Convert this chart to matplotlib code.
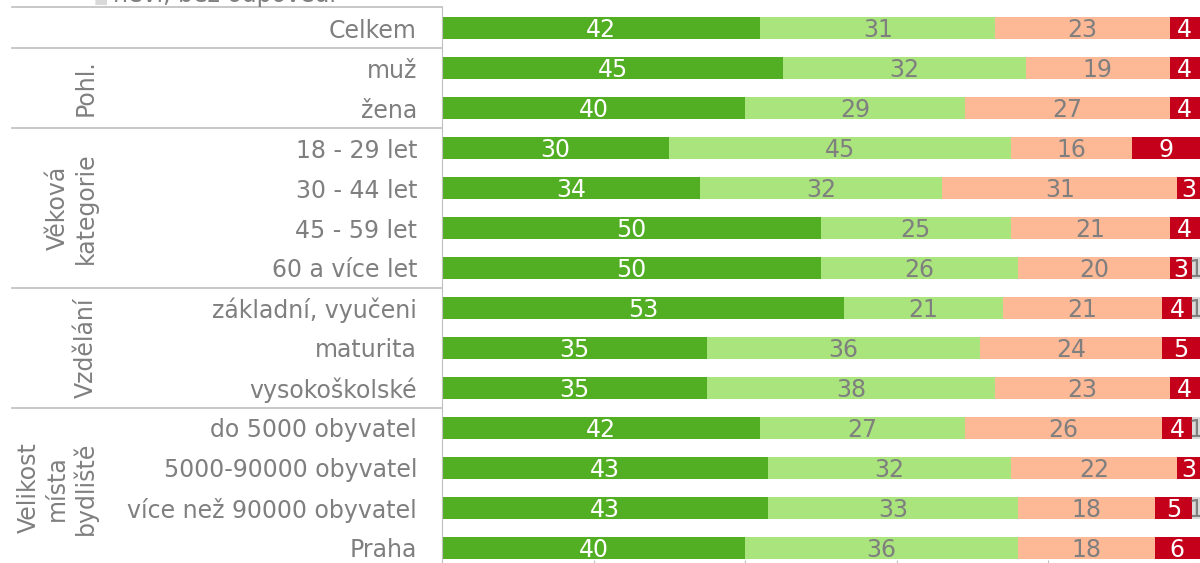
import numpy as np
import matplotlib
matplotlib.use("Agg")
import matplotlib.pyplot as plt
from matplotlib.transforms import blended_transform_factory

# ── DATA ──────────────────────────────────────────────────────────────────────
categories = ["Celkem", "muž", "žena",
              "18 - 29 let", "30 - 44 let", "45 - 59 let", "60 a více let",
              "základní, vyučeni", "maturita", "vysokoškolské",
              "do 5000 obyvatel", "5000-90000 obyvatel", "více než 90000 obyvatel", "Praha"]

s1 = [42, 45, 40, 30, 34, 50, 50, 53, 35, 35, 42, 43, 43, 40]
s2 = [31, 32, 29, 45, 32, 25, 26, 21, 36, 38, 27, 32, 33, 36]
s3 = [23, 19, 27, 16, 31, 21, 20, 21, 24, 23, 26, 22, 18, 18]
s4 = [4, 4, 4, 9, 3, 4, 3, 4, 5, 4, 4, 3, 5, 6]
s5 = [0, 0, 0, 0, 0, 0, 1, 1, 0, 0, 1, 0, 1, 0]

groups = [("Pohl.", 1, 2), ("Věková\nkategorie", 3, 6), ("Vzdělání", 7, 9),
          ("Velikost\nmísta\nbydliště", 10, 13)]
separators = [0.5, 2.5, 6.5, 9.5]

colors      = ["#52AE23", "#A9E47C", "#FDB896", "#C5001A", "#D9D9D9"]
text_colors = ["white", "#7F7F7F", "#7F7F7F", "white", "#7F7F7F"]
GRAY = "#7F7F7F"
LINE = "#BFBFBF"

# ── PLOT ──────────────────────────────────────────────────────────────────────
fig = plt.figure(figsize=(12, 5.63), dpi=100)
ax = fig.add_axes([442 / 1200, 3 / 563, 1 - 442 / 1200, 553 / 563])

series = [s1, s2, s3, s4, s5]
y = np.arange(len(categories))
left = np.zeros(len(categories))
for vals, c, tc in zip(series, colors, text_colors):
    vals = np.array(vals, dtype=float)
    ax.barh(y, vals, left=left, height=0.55, color=c, edgecolor="none")
    for yi, (l, v) in enumerate(zip(left, vals)):
        if v > 0:
            ax.text(l + v / 2, yi + 0.04, f"{int(v)}", ha="center", va="center",
                    color=tc, fontsize=17, clip_on=False)
    left += vals

ax.set_xlim(0, 100)
ax.set_ylim(13.3, -0.525)
ax.set_yticks(y)
ax.set_yticklabels(categories, fontsize=17, color=GRAY)
ax.tick_params(axis="y", length=0, pad=18)
ax.set_xticks([0, 20, 40, 60, 80, 100])
ax.tick_params(axis="x", length=4, color=LINE, labelbottom=False, direction="out")
for s in ["top", "right", "bottom"]:
    ax.spines[s].set_visible(False)
ax.spines["left"].set_color(LINE)

# table lines on the left
tr = blended_transform_factory(fig.transFigure, ax.transData)
for sy in [-0.525] + separators:
    ax.plot([12 / 1200, 442 / 1200], [sy, sy], color=LINE, lw=1.2,
            transform=tr, clip_on=False)

# group labels
for name, a, b in groups:
    ax.text(98 / 1200, (a + b) / 2, name, transform=tr, rotation=90,
            ha="right", va="center", multialignment="center", linespacing=1.2,
            fontsize=17, color=GRAY)

# cut-off legend entry at the top
fig.text(94 / 1200, 1 - 3 / 563, "■", color="#D9D9D9", fontsize=11, va="baseline")
fig.text(113 / 1200, 1 - 2 / 563, "neví, bez odpovědi", color=GRAY, fontsize=17, va="baseline")

fig.savefig("out.png", dpi=100)
